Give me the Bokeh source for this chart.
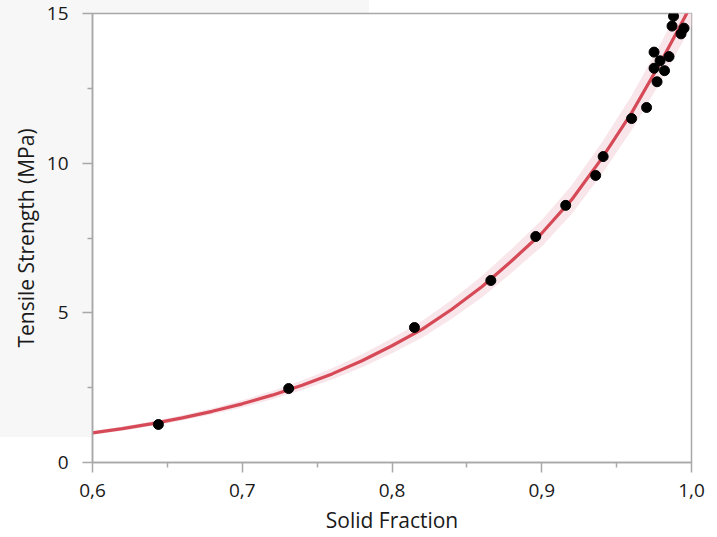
from bokeh.plotting import figure
from bokeh.models import FixedTicker, Range1d, ColumnDataSource
from bokeh.embed import file_html
from bokeh.resources import INLINE

# measured data points
solid_fraction = [0.644, 0.731, 0.815, 0.866, 0.896, 0.916, 0.936, 0.941, 0.960, 0.970,
                  0.975, 0.975, 0.977, 0.979, 0.982, 0.985, 0.987, 0.988, 0.993, 0.995]
tensile_strength = [1.27, 2.47, 4.51, 6.08, 7.55, 8.59, 9.59, 10.22, 11.49, 11.86,
                    13.71, 13.17, 12.72, 13.42, 13.09, 13.56, 14.58, 14.91, 14.32, 14.51]

# fitted curve
fit_x = [0.60, 0.62, 0.64, 0.66, 0.68, 0.70, 0.72, 0.74, 0.76, 0.78, 0.80,
         0.82, 0.84, 0.86, 0.88, 0.90, 0.92, 0.94, 0.96, 0.98, 1.00]
fit_y = [0.99, 1.13, 1.30, 1.49, 1.71, 1.96, 2.25, 2.58, 2.96, 3.40, 3.90,
         4.45, 5.12, 5.87, 6.74, 7.66, 8.78, 10.15, 11.68, 13.42, 15.30]
band_half = [0.06, 0.07, 0.08, 0.09, 0.10, 0.12, 0.14, 0.16, 0.19, 0.22, 0.25,
             0.28, 0.32, 0.36, 0.40, 0.44, 0.48, 0.53, 0.58, 0.64, 0.72]

x_ticks = [0.6, 0.7, 0.8, 0.9, 1.0]
x_tick_labels = ["0,6", "0,7", "0,8", "0,9", "1,0"]
x_minor = [0.65, 0.75, 0.85, 0.95]
y_ticks = [0, 5, 10, 15]
y_minor = [2.5, 7.5, 12.5]

band_lo = [y - h for y, h in zip(fit_y, band_half)]
band_hi = [y + h for y, h in zip(fit_y, band_half)]

FONT = "Open Sans"
GRAY = "#a8a8a8"

p = figure(width=717, height=537, output_backend="svg", toolbar_location=None,
           x_range=Range1d(0.6, 1.0), y_range=Range1d(0, 15),
           min_border_left=92, min_border_top=13, min_border_right=26, min_border_bottom=75)
p.border_fill_color = None
p.background_fill_color = "white"
p.outline_line_color = GRAY
p.outline_line_width = 1.5
p.styles = {
    "background-image": "linear-gradient(#f7f7f7, #f7f7f7)",
    "background-size": "369px 437px",
    "background-repeat": "no-repeat",
}
p.grid.visible = False

src_band = ColumnDataSource(dict(x=fit_x, lo=band_lo, hi=band_hi))
p.varea(x="x", y1="lo", y2="hi", source=src_band, fill_color="#f9e6eb", fill_alpha=1.0)
p.line(fit_x, fit_y, line_color="#d64a58", line_width=3.2)
p.scatter(solid_fraction, tensile_strength, size=10, fill_color="black", line_color="black")

p.xaxis.ticker = FixedTicker(ticks=x_ticks, minor_ticks=x_minor)
p.xaxis.major_label_overrides = dict(zip(x_ticks, x_tick_labels))
p.yaxis.ticker = FixedTicker(ticks=y_ticks, minor_ticks=y_minor)

p.xaxis.axis_label = "Solid Fraction"
p.yaxis.axis_label = "Tensile Strength (MPa)"

for ax in (p.xaxis, p.yaxis):
    ax.axis_line_color = GRAY
    ax.axis_line_width = 1.5
    ax.major_tick_line_color = GRAY
    ax.major_tick_line_width = 1.5
    ax.minor_tick_line_color = GRAY
    ax.minor_tick_line_width = 1.5
    ax.major_tick_out = 10
    ax.major_tick_in = 0
    ax.minor_tick_out = 5
    ax.minor_tick_in = 0
    ax.major_label_text_font = FONT
    ax.major_label_text_font_size = "19px"
    ax.major_label_text_color = "#1a1a1a"
    ax.axis_label_text_font = FONT
    ax.axis_label_text_font_size = "21px"
    ax.axis_label_text_font_style = "normal"
    ax.axis_label_text_color = "#1a1a1a"

p.xaxis.major_label_standoff = 11
p.xaxis.axis_label_standoff = 6
p.yaxis.major_label_standoff = 14
p.yaxis.axis_label_standoff = 4

open("out.html", "w").write(file_html(p, INLINE))
